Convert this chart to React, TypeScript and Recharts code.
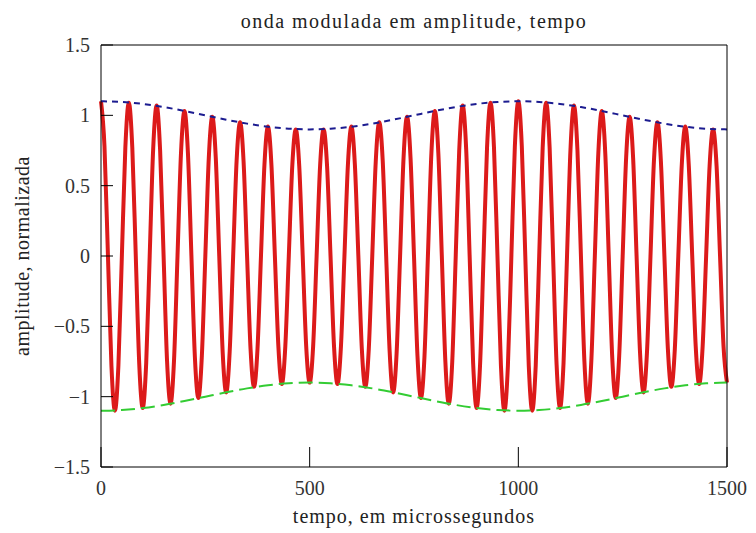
import { Line, LineChart, XAxis, YAxis } from "recharts";

const chartTitle = "onda modulada em amplitude, tempo";
const xTitle = "tempo, em microssegundos";
const yTitle = "amplitude, normalizada";

const xTicks = [0, 500, 1000, 1500];
const yTicks = [-1.5, -1, -0.5, 0, 0.5, 1, 1.5];

// carrier samples, 8 per period, one row per period (step = 1500/180 µs)
const waveStep = 1500 / 180;
const carrierWave = [
  1.1, 0.78, 0, -0.78, -1.1, -0.78, 0, 0.77,
  1.09, 0.77, 0, -0.77, -1.08, -0.76, 0, 0.76,
  1.07, 0.75, 0, -0.75, -1.05, -0.74, 0, 0.73,
  1.03, 0.73, 0, -0.72, -1.01, -0.71, 0, 0.7,
  0.99, 0.7, 0, -0.69, -0.97, -0.68, 0, 0.68,
  0.95, 0.67, 0, -0.66, -0.93, -0.66, 0, 0.65,
  0.92, 0.65, 0, -0.64, -0.91, -0.64, 0, 0.64,
  0.9, 0.64, 0, -0.64, -0.9, -0.64, 0, 0.64,
  0.9, 0.64, 0, -0.64, -0.91, -0.64, 0, 0.65,
  0.92, 0.65, 0, -0.66, -0.93, -0.66, 0, 0.67,
  0.95, 0.68, 0, -0.68, -0.97, -0.69, 0, 0.7,
  0.99, 0.7, 0, -0.71, -1.01, -0.72, 0, 0.73,
  1.03, 0.73, 0, -0.74, -1.05, -0.75, 0, 0.75,
  1.07, 0.76, 0, -0.76, -1.08, -0.77, 0, 0.77,
  1.09, 0.77, 0, -0.78, -1.1, -0.78, 0, 0.78,
  1.1, 0.78, 0, -0.78, -1.1, -0.78, 0, 0.77,
  1.09, 0.77, 0, -0.77, -1.08, -0.76, 0, 0.76,
  1.07, 0.75, 0, -0.75, -1.05, -0.74, 0, 0.73,
  1.03, 0.73, 0, -0.72, -1.01, -0.71, 0, 0.7,
  0.99, 0.7, 0, -0.69, -0.97, -0.68, 0, 0.68,
  0.95, 0.67, 0, -0.66, -0.93, -0.66, 0, 0.65,
  0.92, 0.65, 0, -0.64, -0.91, -0.64, 0, 0.64,
  0.9, 0.64, 0, -0.64, -0.9,
];

// envelopes every 50 µs
const envTimes = [
  0, 50, 100, 150, 200, 250, 300, 350, 400, 450, 500, 550, 600, 650, 700, 750,
  800, 850, 900, 950, 1000, 1050, 1100, 1150, 1200, 1250, 1300, 1350, 1400,
  1450, 1500,
];
const upperEnvelope = [
  1.1, 1.095, 1.081, 1.059, 1.031, 1.0, 0.969, 0.941, 0.919, 0.905, 0.9, 0.905,
  0.919, 0.941, 0.969, 1.0, 1.031, 1.059, 1.081, 1.095, 1.1, 1.095, 1.081,
  1.059, 1.031, 1.0, 0.969, 0.941, 0.919, 0.905, 0.9,
];
const lowerEnvelope = [
  -1.1, -1.095, -1.081, -1.059, -1.031, -1.0, -0.969, -0.941, -0.919, -0.905,
  -0.9, -0.905, -0.919, -0.941, -0.969, -1.0, -1.031, -1.059, -1.081, -1.095,
  -1.1, -1.095, -1.081, -1.059, -1.031, -1.0, -0.969, -0.941, -0.919, -0.905,
  -0.9,
];

const waveData = carrierWave.map((v, i) => ({ t: i * waveStep, v }));
const envData = envTimes.map((t, i) => ({
  t,
  up: upperEnvelope[i],
  low: lowerEnvelope[i],
}));

const FONT = "Liberation Serif, DejaVu Serif, serif";
const tickStyle = { fill: "#333", fontSize: 20, style: { fontFamily: FONT } };
const textStyle = { fontFamily: FONT, fontSize: 20 };
const fmt = (v: number) => String(v).replace("-", "\u2212");

export default function App() {
  return (
    <div
      style={{
        position: "absolute",
        left: 0,
        top: 0,
        width: 756,
        height: 533,
        background: "#fff",
        fontFamily: FONT,
      }}
    >
      <LineChart
        width={756}
        height={533}
        margin={{ top: 15, right: 19, bottom: 0, left: 0 }}
        style={{ fontFamily: FONT }}
      >
        <XAxis
          type="number"
          dataKey="t"
          domain={[0, 1500]}
          ticks={xTicks}
          height={66}
          tickSize={-20}
          tickMargin={34}
          tick={tickStyle}
          stroke="#000"
        />
        <XAxis
          xAxisId="top"
          orientation="top"
          type="number"
          dataKey="t"
          domain={[0, 1500]}
          ticks={xTicks}
          height={30}
          tickSize={-20}
          tickFormatter={() => ""}
          stroke="#000"
        />
        <YAxis
          type="number"
          domain={[-1.5, 1.5]}
          ticks={yTicks}
          width={101}
          tickSize={-12}
          tickMargin={23}
          tick={tickStyle}
          tickFormatter={fmt}
          stroke="#000"
        />
        <YAxis
          yAxisId="right"
          orientation="right"
          type="number"
          domain={[-1.5, 1.5]}
          ticks={yTicks}
          width={10}
          tickSize={-12}
          tickFormatter={() => ""}
          stroke="#000"
        />
        <Line
          data={waveData}
          dataKey="v"
          type="monotone"
          stroke="#dc1a1a"
          strokeWidth={4}
          dot={false}
          isAnimationActive={false}
        />
        <Line
          data={envData}
          dataKey="up"
          type="monotone"
          stroke="#1c1c90"
          strokeWidth={2}
          strokeDasharray="6 5"
          dot={false}
          isAnimationActive={false}
        />
        <Line
          data={envData}
          dataKey="low"
          type="monotone"
          stroke="#33cc33"
          strokeWidth={2}
          strokeDasharray="14 6"
          dot={false}
          isAnimationActive={false}
        />
      </LineChart>
      <svg
        width={756}
        height={533}
        style={{ position: "absolute", left: 0, top: 0, pointerEvents: "none" }}
      >
        <text x={414} y={28} textAnchor="middle" fill="#222" style={{ ...textStyle, letterSpacing: 1.5 }}>
          {chartTitle}
        </text>
        <text x={414} y={523} textAnchor="middle" fill="#222" style={{ ...textStyle, letterSpacing: 1 }}>
          {xTitle}
        </text>
        <text
          x={0}
          y={0}
          transform="translate(29,256) rotate(-90)"
          textAnchor="middle"
          fill="#222"
          style={{ ...textStyle, letterSpacing: 0.5 }}
        >
          {yTitle}
        </text>
      </svg>
    </div>
  );
}
